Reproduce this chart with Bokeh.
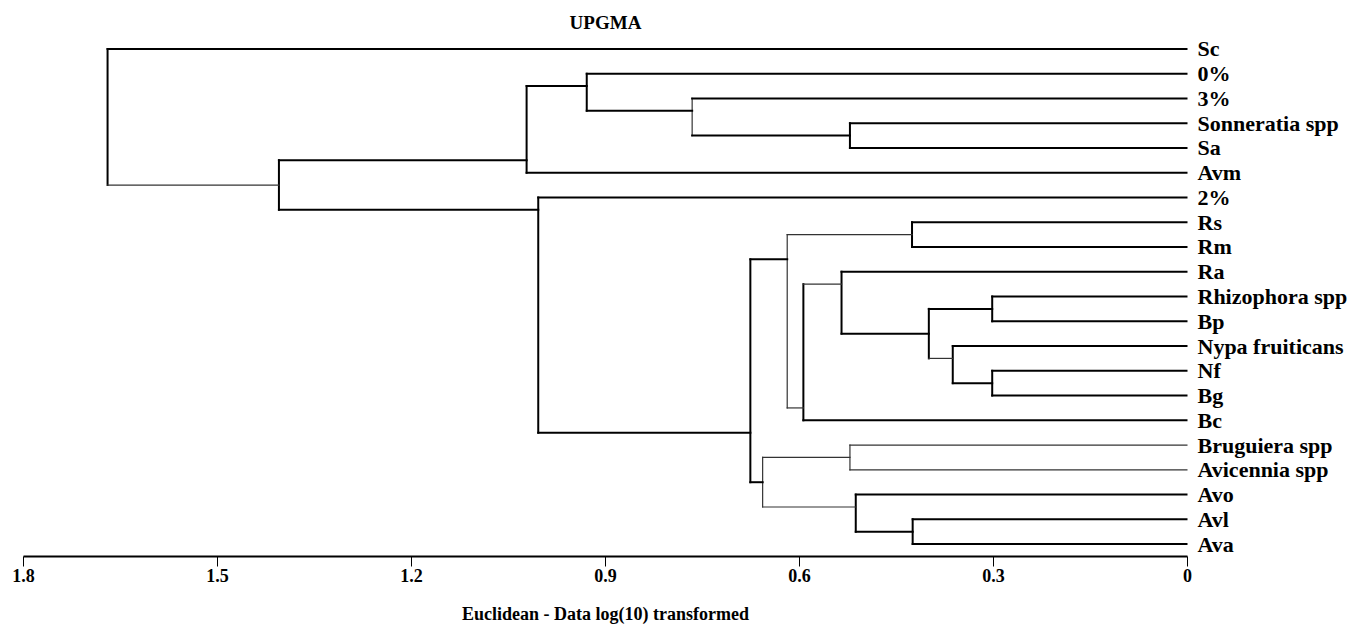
from bokeh.plotting import figure
from bokeh.models import Range1d, FixedTicker, ColumnDataSource
from bokeh.embed import file_html
from bokeh.resources import INLINE

# ---- data ----
leaves = ["Sc", "0%", "3%", "Sonneratia spp", "Sa", "Avm", "2%", "Rs", "Rm", "Ra",
          "Rhizophora spp", "Bp", "Nypa fruiticans", "Nf", "Bg", "Bc",
          "Bruguiera spp", "Avicennia spp", "Avo", "Avl", "Ava"]

merge_names = ["n1", "n2", "n3", "n4", "n5", "n6", "n7", "n8", "n9", "n10",
               "n11", "n12", "n13", "n14", "n15", "n16", "n17", "n18", "n19", "n20"]
merge_left = ["Rhizophora spp", "Nf", "Nypa fruiticans", "n1", "Avl", "Rs", "Avo",
              "Sonneratia spp", "Bruguiera spp", "Ra", "n10", "n6", "n9", "n12",
              "3%", "0%", "2%", "n16", "n18", "Sc"]
merge_right = ["Bp", "Bg", "n2", "n3", "Ava", "Rm", "n5", "Sa", "Avicennia spp", "n4",
               "Bc", "n11", "n7", "n13", "n8", "n15", "n14", "Avm", "n17", "n19"]
merge_height = [0.302, 0.302, 0.363, 0.400, 0.425, 0.426, 0.513, 0.522, 0.522, 0.535,
                0.594, 0.619, 0.657, 0.676, 0.766, 0.929, 1.004, 1.022, 1.405, 1.670]

x_ticks = [1.8, 1.5, 1.2, 0.9, 0.6, 0.3, 0]
x_tick_labels = ["1.8", "1.5", "1.2", "0.9", "0.6", "0.3", "0"]

# ---- styles ----
thin_vertical = {"n12", "n15", "n13", "n9"}
thin_branch = {("n20", "n19"), ("n12", "n6"), ("n12", "n11"), ("n11", "n10"),
               ("n4", "n3"), ("n13", "n9"), ("n13", "n7"),
               ("n9", "Bruguiera spp"), ("n9", "Avicennia spp")}
THICK = (2.0, "#000000")
THIN = (1.2, "#333333")

# ---- geometry from tree ----
pos = {name: float(i) for i, name in enumerate(leaves)}
height = {name: 0.0 for name in leaves}
first_leaf = {name: i for i, name in enumerate(leaves)}
last_leaf = {name: i for i, name in enumerate(leaves)}

x0, y0, x1, y1, lw, lc = [], [], [], [], [], []

def add(a, b, c, d, style):
    x0.append(a); y0.append(b); x1.append(c); y1.append(d)
    lw.append(style[0]); lc.append(style[1])

for name, l, r, h in zip(merge_names, merge_left, merge_right, merge_height):
    first_leaf[name] = first_leaf[l]
    last_leaf[name] = last_leaf[r]
    pos[name] = (last_leaf[l] + first_leaf[r]) / 2.0
    height[name] = h
    yl, yr = pos[l], pos[r]
    add(h, yl, h, yr, THIN if name in thin_vertical else THICK)
    add(h, yl, height[l], yl, THIN if (name, l) in thin_branch else THICK)
    add(h, yr, height[r], yr, THIN if (name, r) in thin_branch else THICK)

src = ColumnDataSource(dict(x0=x0, y0=y0, x1=x1, y1=y1, lw=lw, lc=lc))

p = figure(frame_width=1164, frame_height=520,
           x_range=Range1d(1.8, 0), y_range=Range1d(len(leaves) - 0.5, -0.5),
           output_backend="svg", toolbar_location=None,
           y_axis_location="right", title="UPGMA",
           min_border_left=23, min_border_top=36, min_border_bottom=72, min_border_right=2)

p.segment("x0", "y0", "x1", "y1", source=src, line_width="lw", line_color="lc",
          line_cap="square")

p.title.align = "center"
p.title.text_font = "Liberation Serif"
p.title.text_font_style = "bold"
p.title.text_font_size = "19px"
p.title.text_color = "black"
p.title.standoff = 7

p.xgrid.visible = False
p.ygrid.visible = False
p.outline_line_color = None

xa = p.xaxis[0]
xa.ticker = FixedTicker(ticks=x_ticks)
xa.major_label_overrides = {t: s for t, s in zip(x_ticks, x_tick_labels)}
xa.axis_line_width = 2
xa.axis_line_color = "black"
xa.major_tick_in = 0
xa.major_tick_out = 10
xa.major_tick_line_width = 1
xa.minor_tick_line_color = None
xa.major_label_standoff = 2
xa.major_label_text_font = "Liberation Serif"
xa.major_label_text_font_style = "bold"
xa.major_label_text_font_size = "18px"
xa.major_label_text_color = "black"
xa.axis_label = "Euclidean - Data log(10) transformed"
xa.axis_label_text_font = "Liberation Serif"
xa.axis_label_text_font_style = "bold"
xa.axis_label_text_font_size = "18px"
xa.axis_label_text_color = "black"
xa.axis_label_standoff = 19

ya = p.yaxis[0]
ya.ticker = FixedTicker(ticks=list(range(len(leaves))))
ya.major_label_overrides = {i: n for i, n in enumerate(leaves)}
ya.axis_line_color = None
ya.major_tick_line_color = None
ya.minor_tick_line_color = None
ya.major_tick_out = 0
ya.major_tick_in = 0
ya.major_label_standoff = 10
ya.major_label_text_font = "Liberation Serif"
ya.major_label_text_font_style = "bold"
ya.major_label_text_font_size = "22px"
ya.major_label_text_color = "black"

open("out.html", "w").write(file_html(p, INLINE))
